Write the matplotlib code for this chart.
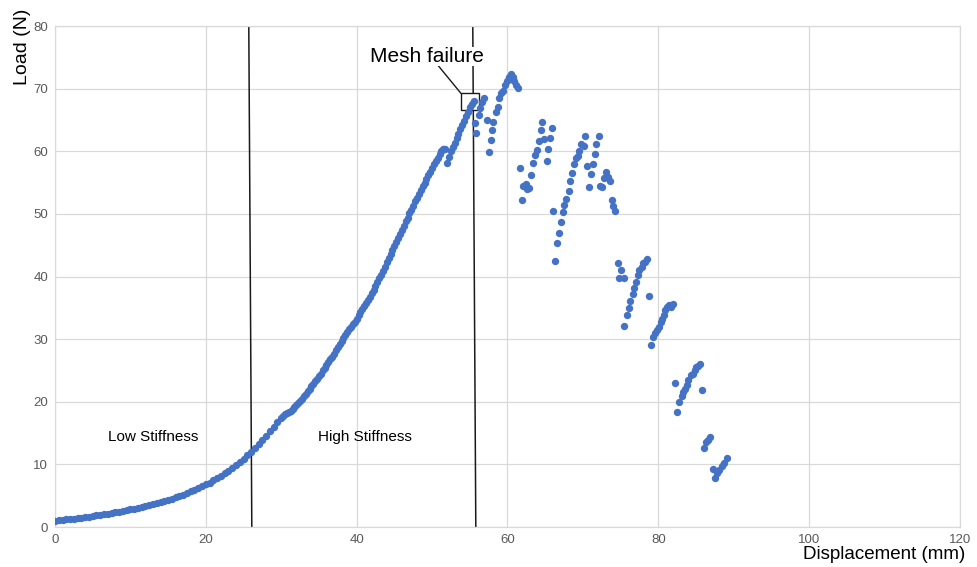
import numpy as np
import matplotlib
matplotlib.use('Agg')
import matplotlib.pyplot as plt
from matplotlib.patches import Rectangle

plt.rcParams['font.family'] = ['Liberation Sans', 'DejaVu Sans']

# loading part
disp1 = np.arange(0, 30.01, 0.5)
load1 = [1.00, 1.07, 1.14, 1.21, 1.28, 1.36, 1.44, 1.52, 1.60, 1.68,
         1.77, 1.86, 1.95, 2.05, 2.15, 2.25, 2.36, 2.47, 2.58, 2.70,
         2.82, 2.94, 3.07, 3.20, 3.34, 3.49, 3.64, 3.80, 3.97, 4.15,
         4.34, 4.53, 4.74, 4.96, 5.19, 5.43, 5.68, 5.95, 6.22, 6.51,
         6.80, 7.10, 7.45, 7.80, 8.20, 8.60, 9.00, 9.45, 9.90, 10.40,
         10.90, 11.45, 12.00, 12.60, 13.20, 13.90, 14.60, 15.30, 16.00, 16.70,
         17.40]

disp2 = np.arange(30.25, 51.51, 0.25)
load2 = [17.7, 18.0, 18.2, 18.4, 18.6, 18.9, 19.2, 19.5, 19.8, 20.1,
         20.5, 20.9, 21.3, 21.7, 22.1, 22.5, 22.9, 23.3, 23.7, 24.1,
         24.5, 25.0, 25.4, 25.9, 26.3, 26.8, 27.2, 27.7, 28.2, 28.7,
         29.2, 29.7, 30.2, 30.7, 31.2, 31.6, 32.0, 32.4, 32.8, 33.3,
         33.8, 34.3, 34.8, 35.3, 35.8, 36.3, 36.8, 37.3, 37.9, 38.5,
         39.1, 39.7, 40.2, 40.9, 41.6, 42.3, 42.9, 43.6, 44.2, 44.9,
         45.5, 46.2, 46.8, 47.5, 48.1, 48.8, 49.4, 50.1, 50.7, 51.3,
         52.0, 52.6, 53.2, 53.8, 54.4, 55.0, 55.6, 56.2, 56.7, 57.3,
         57.9, 58.5, 59.0, 59.6, 60.0, 60.3]

disp3 = [51.6, 51.7, 51.95, 52.25, 52.5, 52.75, 53.0, 53.25, 53.5, 53.75,
         54.0, 54.25, 54.5, 54.75, 55.0, 55.25, 55.5]
load3 = [60.4, 60.3, 58.2, 59.1, 60.0, 60.7, 61.4, 62.1, 62.8, 63.5,
         64.2, 64.9, 65.6, 66.3, 67.0, 67.6, 68.0]

# after mesh failure
disp4 = [55.7, 55.8, 56.2, 56.3, 56.6, 56.9, 57.3, 57.5, 57.8, 57.9, 58.1, 58.5, 58.7, 58.9, 59.2, 59.4, 59.7, 59.9, 60.2, 60.4, 60.7, 60.9, 61.1, 61.4,
         61.7, 61.9, 62.1, 62.4, 62.6, 62.9, 63.1, 63.4, 63.7, 63.9, 64.2, 64.4, 64.6, 64.9, 65.2, 65.4, 65.6, 65.9,
         66.0, 66.3, 66.6, 66.8, 67.1, 67.3, 67.5, 67.8, 68.1, 68.3, 68.6, 68.8, 69.1, 69.3, 69.5, 69.8, 70.1, 70.3,
         70.6, 70.8, 71.1, 71.3, 71.6, 71.8, 72.1, 72.3, 72.5, 72.8, 73.1, 73.3, 73.6, 73.8, 74.0, 74.3,
         74.6, 75.0, 74.8, 75.4, 75.5, 75.8, 76.1, 76.3, 76.6, 76.8, 77.1, 77.3, 77.5, 77.8, 78.0, 78.2, 78.5, 78.7,
         79.0, 79.3, 79.6, 79.8, 80.1, 80.3, 80.5, 80.7, 80.9, 81.2, 81.4, 81.7, 82.0,
         82.2, 82.5, 82.8, 83.1, 83.3, 83.6, 83.8, 84.0, 84.3, 84.6, 84.8, 85.0, 85.3, 85.5, 85.8,
         86.0, 86.3, 86.6, 86.9, 87.2, 87.5, 87.8, 88.1, 88.4, 88.7, 89.1]
load4 = [64.6, 63.0, 65.8, 66.9, 67.8, 68.5, 65.0, 59.9, 61.8, 63.4, 64.7, 66.2, 67.1, 68.5, 69.3, 69.7, 70.6, 71.3, 71.8, 72.3, 71.9, 71.3, 70.6, 70.1,
         57.4, 52.2, 54.5, 54.8, 54.0, 54.2, 56.2, 58.1, 59.4, 60.2, 61.7, 63.4, 64.7, 61.9, 58.4, 60.4, 62.1, 63.7,
         50.5, 42.5, 45.4, 47.0, 48.7, 50.3, 51.4, 52.4, 53.7, 55.2, 56.6, 58.0, 59.0, 59.2, 60.0, 61.1, 60.9, 62.5,
         57.6, 54.3, 56.3, 57.9, 59.6, 61.2, 62.4, 54.5, 54.3, 55.7, 56.7, 55.9, 55.3, 52.2, 51.3, 50.5,
         42.1, 41.1, 39.8, 39.8, 32.1, 33.8, 34.9, 36.1, 37.2, 38.2, 39.2, 40.2, 41.1, 41.6, 42.1, 42.4, 42.8, 36.9,
         29.1, 30.4, 31.0, 31.5, 32.0, 32.8, 33.2, 33.9, 34.6, 35.1, 35.4, 35.1, 35.6,
         23.0, 18.3, 19.9, 20.9, 21.5, 22.0, 22.7, 23.5, 24.3, 24.5, 25.1, 25.5, 25.7, 26.1, 21.9,
         12.7, 13.5, 13.9, 14.3, 9.2, 7.8, 8.6, 9.1, 9.7, 10.3, 11.0]

disp = np.concatenate([disp1, disp2, disp3, disp4])
load = np.concatenate([load1, load2, load3, load4])

xticks = [0, 20, 40, 60, 80, 100, 120]
yticks = [0, 10, 20, 30, 40, 50, 60, 70, 80]

blue = '#4472C4'
grid_c = '#D9D9D9'

fig, ax = plt.subplots(figsize=(9.78, 5.67), dpi=100)
plt.subplots_adjust(left=0.0562, right=0.9816, bottom=0.0705, top=0.954)

ax.plot(disp, load, 'o', color=blue, markersize=5.3, markeredgewidth=0, zorder=4)

# region boundaries
ax.plot([25.7, 26.1], [80, 0], color='#1a1a1a', lw=1.1, zorder=2)
ax.plot([55.4, 55.8], [80, 0], color='#1a1a1a', lw=1.1, zorder=2)

# mesh failure marker
ax.add_patch(Rectangle((53.8, 66.6), 2.4, 2.7, facecolor='white', edgecolor='#1a1a1a', lw=1.0, zorder=3))
ax.plot([50.6, 53.8], [74.0, 69.3], color='#1a1a1a', lw=1.0, zorder=3)
ax.text(49.3, 75.1, 'Mesh failure', fontsize=15, ha='center', va='center', color='black',
        bbox=dict(facecolor='white', edgecolor='none', pad=0), zorder=3)

ax.text(7.0, 14.4, 'Low Stiffness', fontsize=11, ha='left', va='center', color='black')
ax.text(34.9, 14.4, 'High Stiffness', fontsize=11, ha='left', va='center', color='black')

ax.set_xlim(0, 120)
ax.set_ylim(0, 80)
ax.set_xticks(xticks)
ax.set_yticks(yticks)
ax.tick_params(length=0, labelsize=9.5, labelcolor='#595959', pad=5)
ax.grid(True, color=grid_c, lw=0.9)
ax.set_axisbelow(True)
for s in ax.spines.values():
    s.set_color(grid_c)
    s.set_linewidth(0.9)

fig.text(0.0225, 0.985, 'Load (N)', rotation=90, ha='center', va='top', fontsize=14, color='black')
fig.text(0.987, 0.022, 'Displacement (mm)', ha='right', va='center', fontsize=13.5, color='black')

plt.savefig('out.png', dpi=100)
